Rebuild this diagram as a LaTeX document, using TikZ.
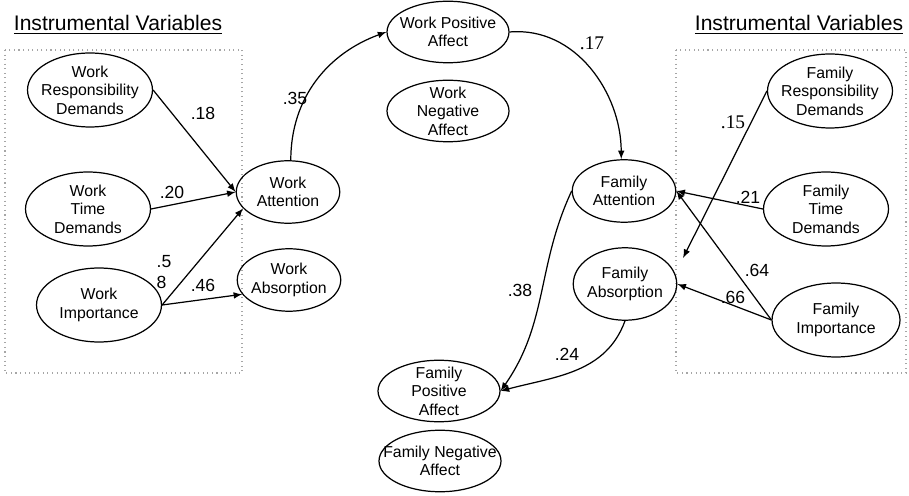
\documentclass[tikz,border=0pt]{standalone}
\usepackage{fontspec}
\setmainfont{Liberation Sans}
\newfontfamily\serifnum{Liberation Serif}
\usetikzlibrary{shapes.geometric}

\def \instrw {2.5cm}
\def \instrh {1.48cm}
\def \medw {2.07cm}
\def \medh {1.25cm}
\def \affw {2.44cm}
\def \affh {1.23cm}

\begin{document}
\begin{tikzpicture}[x=0.02cm, y=0.02cm, line width=0.7pt,
  var/.style={draw, ellipse, align=center, inner xsep=-10pt, inner ysep=-3pt,
    font=\fontsize{9}{10.5}\selectfont},
  coef/.style={inner sep=1pt, font=\fontsize{10}{12}\selectfont},
  frame/.style={draw=gray!70, dotted, line width=0.6pt}]
\useasboundingbox (0,0) rectangle (909,-496);

% instrumental variables
\node[font=\fontsize{12}{14}\selectfont] (titleL) at (118,-25) {\underline{Instrumental Variables}};
\node[font=\fontsize{12}{14}\selectfont] (titleR) at (799,-25) {\underline{Instrumental Variables}};
\draw[frame] (5,-50) rectangle (242,-373);
\draw[frame] (676,-50) rectangle (906,-373);

% work side
\node[var, minimum width=\instrw, minimum height=\instrh] (wrd) at (90,-90) {Work\\Responsibility\\Demands};
\node[var, minimum width=\instrw, minimum height=\instrh] (wtd) at (88,-209) {Work\\Time\\Demands};
\node[var, minimum width=\instrw, minimum height=\instrh] (wi) at (99,-305) {Work\\Importance};
\node[var, minimum width=\medw, minimum height=\medh] (wa) at (288,-192) {Work\\Attention};
\node[var, minimum width=\medw, minimum height=\medh] (wab) at (289,-280) {Work\\Absorption};

% affect
\node[var, minimum width=\affw, minimum height=\affh] (wpa) at (448,-32) {Work Positive\\Affect};
\node[var, minimum width=\affw, minimum height=\affh] (wna) at (448,-111) {Work\\Negative\\Affect};
\node[var, minimum width=\affw, minimum height=\affh] (fpa) at (439,-391) {Family\\Positive\\Affect};
\node[var, minimum width=\affw, minimum height=\affh] (fna) at (440,-461) {Family\ Negative\\Affect};

% family side
\node[var, minimum width=\medw, minimum height=\medh] (fa) at (624,-191) {Family\\Attention};
\node[var, minimum width=\medw, minimum height=1.45cm] (fab) at (625,-284) {Family\\Absorption};
\node[var, minimum width=\instrw, minimum height=\instrh] (frd) at (830,-91) {Family\\Responsibility\\Demands};
\node[var, minimum width=\instrw, minimum height=\instrh] (ftd) at (826,-209) {Family\\Time\\Demands};
\node[var, minimum width=2.56cm, minimum height=\instrh] (fi) at (836,-320) {Family\\Importance};
\coordinate (fabin) at (683,-258);

% paths
\draw[->, >=latex] (wrd.east) -- (wa.west); % .18
\draw[->, >=latex] (wtd.east) -- (wa.west); % .20
\draw[->, >=latex] (wi.east) -- (wa.200); % .58
\draw[->, >=latex] (wi.east) -- (wab.197); % .46
\draw[->, >=latex] (wa.85) to[out=90, in=200] (wpa.west); % .35
\draw[->, >=latex] (wpa.east) to[out=5, in=90] (fa.95); % .17
\draw[->, >=latex] (frd.west) -- (fabin); % .15
\draw[->, >=latex] (ftd.west) -- (fa.east); % .21
\draw[->, >=latex] (fi.west) -- (fa.east); % .64
\draw[->, >=latex] (fi.west) -- (fab.east); % .66
\draw[->, >=latex] (fa.west) to[out=245, in=55] (fpa.east); % .38
\draw[->, >=latex] (fab.south) to[out=250, in=15] (fpa.east); % .24

% coefficients
\node[coef] (c18) at (203,-113) {.18};
\node[coef] (c20) at (172,-192) {.20};
\node[coef, align=left] (c58) at (164,-272) {.5\\8};
\node[coef] (c46) at (203,-285) {.46};
\node[coef] (c35) at (295,-98) {.35};
\node[coef, font=\serifnum\fontsize{11}{12}\selectfont] (c17) at (592,-43) {.17};
\node[coef, font=\serifnum\fontsize{11}{12}\selectfont] (c15) at (733,-122) {.15};
\node[coef] (c21) at (748,-197) {.21};
\node[coef] (c64) at (757,-270) {.64};
\node[coef] (c66) at (733,-297) {.66};
\node[coef] (c38) at (520,-290) {.38};
\node[coef] (c24) at (567,-354) {.24};
\end{tikzpicture}
\end{document}
